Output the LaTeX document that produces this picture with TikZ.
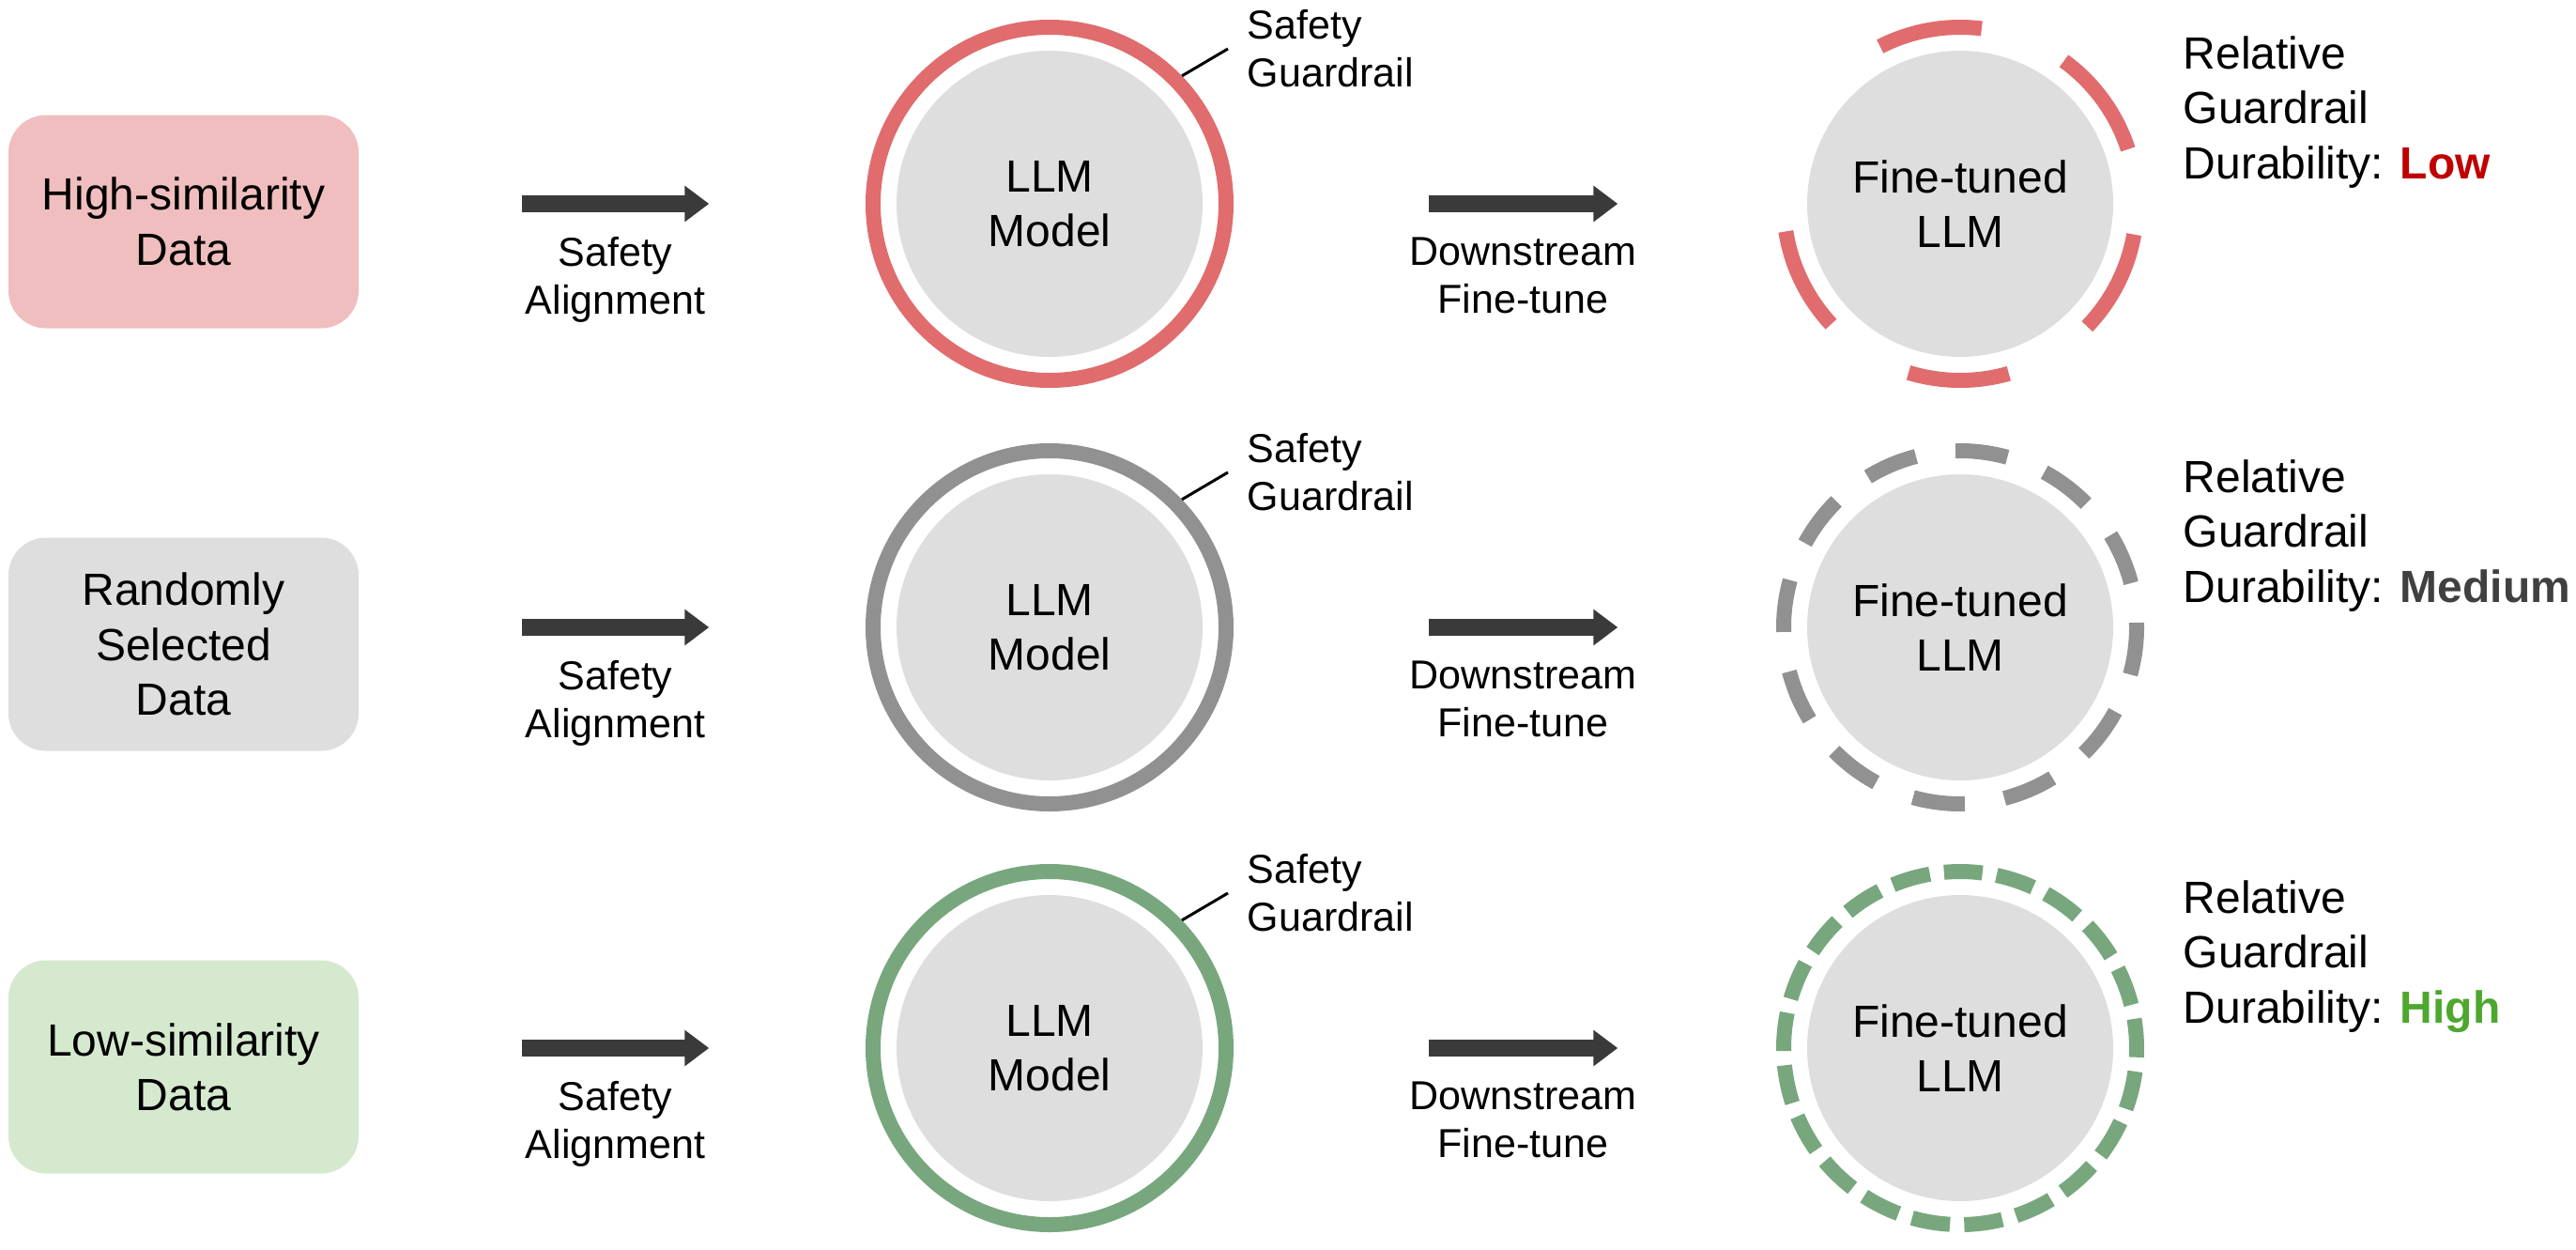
\documentclass[tikz,border=0pt]{standalone}
\usepackage{fontspec}
\setmainfont{Liberation Sans}
\usetikzlibrary{positioning,arrows.meta}

\definecolor{ringred}{RGB}{224,108,110}
\definecolor{ringgray}{RGB}{145,145,145}
\definecolor{ringgreen}{RGB}{120,167,126}
\definecolor{boxred}{RGB}{240,190,190}
\definecolor{boxgray}{RGB}{222,222,222}
\definecolor{boxgreen}{RGB}{213,233,207}
\definecolor{coregray}{RGB}{222,222,222}
\definecolor{arrowgray}{RGB}{58,58,58}
\definecolor{lowred}{RGB}{192,0,0}
\definecolor{medgray}{RGB}{64,64,64}
\definecolor{highgreen}{RGB}{78,167,46}

\begin{document}
\begin{tikzpicture}[
    big/.style={font=\fontsize{13.66pt}{16.6pt}\selectfont, align=center, inner sep=0pt},
    small/.style={font=\fontsize{12.24pt}{14.5pt}\selectfont, align=center, inner sep=0pt},
    databox/.style={big, rounded corners=0.4cm, minimum width=3.73cm, minimum height=2.27cm},
    core/.style={big, circle, fill=coregray, minimum size=3.26cm},
    ring/.style={line width=0.16cm},
    flow/.style={draw=arrowgray, line width=0.18cm, -{Triangle[length=0.26cm,width=0.37cm]}},
    pointer/.style={line width=0.03cm},
  ]
  \useasboundingbox (0,0) rectangle (27.44,-13.30);

  % one row per data set
  \foreach \i/\yc/\yb/\fc/\rc/\txt in {1/-2.17/-2.36/boxred/ringred/{High-similarity\\Data},
      2/-6.68/-6.86/boxgray/ringgray/{Randomly\\Selected\\Data},
      3/-11.16/-11.36/boxgreen/ringgreen/{Low-similarity\\Data}} {
    \node[databox, fill=\fc] (data\i) at (1.955,\yb) {\txt};
    \node[core] (llm\i) at (11.18,\yc) {LLM\\Model};
    \node[core] (ft\i) at (20.88,\yc) {Fine-tuned\\LLM};
    \draw[ring, draw=\rc] (llm\i) circle[radius=1.88];
    \node[small, align=left, anchor=north west] (gr\i) at (13.28,\yc+2.07) {Safety\\Guardrail};
    \draw[pointer] ([shift={(44:1.96)}]llm\i.center) -- ([xshift=-0.2cm]gr\i.west);
    \draw[flow, shorten <=1.73cm, shorten >=1.99cm] (data\i.east |- llm\i) -- (llm\i);
    \node[small, anchor=north] (sa\i) at (6.555,\yc-0.35) {Safety\\Alignment};
    \draw[flow, shorten <=2.40cm, shorten >=2.01cm] (llm\i) -- (ft\i);
    \node[small, anchor=north] (df\i) at (16.225,\yc-0.35) {Downstream\\Fine-tune};
  }

  % guardrails after fine-tuning
  \foreach \s/\e in {18/54,83/117,189/223,253/286,316/350}
    \draw[ring, draw=ringred] ([shift={(\s:1.88)}]ft1.center) arc[start angle=\s, end angle=\e, radius=1.88];
  \foreach \k [evaluate=\k as \s using 74.5-30*\k] in {0,...,11}
    \draw[ring, draw=ringgray] ([shift={(\s:1.88)}]ft2.center) arc[start angle=\s, delta angle=17, radius=1.88];
  \foreach \k [evaluate=\k as \s using 82.75-17.143*\k] in {0,...,20}
    \draw[ring, draw=ringgreen] ([shift={(\s:1.88)}]ft3.center) arc[start angle=\s, delta angle=12.5, radius=1.88];

  \node[big, align=left, anchor=north west] (dur1) at (23.25,-0.38) {Relative\\Guardrail\\Durability: \textbf{\color{lowred}Low}};
  \node[big, align=left, anchor=north west] (dur2) at (23.25,-4.89) {Relative\\Guardrail\\Durability: \textbf{\color{medgray}Medium}};
  \node[big, align=left, anchor=north west] (dur3) at (23.25,-9.37) {Relative\\Guardrail\\Durability: \textbf{\color{highgreen}High}};
\end{tikzpicture}
\end{document}
